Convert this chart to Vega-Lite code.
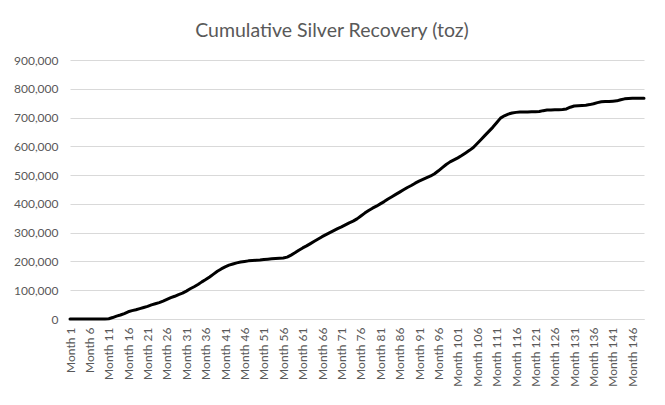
{
  "$schema": "https://vega.github.io/schema/vega-lite/v6.json",
  "width": 574,
  "height": 259,
  "autosize": {"type": "none"},
  "padding": {"left": 70, "top": 60, "right": 21, "bottom": 86},
  "background": "white",
  "title": {
    "text": "Cumulative Silver Recovery (toz)",
    "font": "Lato",
    "fontSize": 19.5,
    "fontWeight": "normal",
    "color": "#595959",
    "anchor": "middle",
    "dx": -25,
    "offset": 13
  },
  "data": {
    "values": [
      {"month": 1, "toz": 0}, {"month": 2, "toz": 0}, {"month": 3, "toz": 0}, {"month": 4, "toz": 0}, {"month": 5, "toz": 0},
      {"month": 6, "toz": 0}, {"month": 7, "toz": 0}, {"month": 8, "toz": 0}, {"month": 9, "toz": 0}, {"month": 10, "toz": 0},
      {"month": 11, "toz": 1000}, {"month": 12, "toz": 5000}, {"month": 13, "toz": 10000}, {"month": 14, "toz": 14000}, {"month": 15, "toz": 19000},
      {"month": 16, "toz": 25000}, {"month": 17, "toz": 29000}, {"month": 18, "toz": 32000}, {"month": 19, "toz": 36000}, {"month": 20, "toz": 40000},
      {"month": 21, "toz": 44000}, {"month": 22, "toz": 49000}, {"month": 23, "toz": 53000}, {"month": 24, "toz": 57000}, {"month": 25, "toz": 62000},
      {"month": 26, "toz": 68000}, {"month": 27, "toz": 74000}, {"month": 28, "toz": 79000}, {"month": 29, "toz": 85000}, {"month": 30, "toz": 90000},
      {"month": 31, "toz": 97000}, {"month": 32, "toz": 105000}, {"month": 33, "toz": 112000}, {"month": 34, "toz": 120000}, {"month": 35, "toz": 129000},
      {"month": 36, "toz": 137000}, {"month": 37, "toz": 146000}, {"month": 38, "toz": 156000}, {"month": 39, "toz": 166000}, {"month": 40, "toz": 174000},
      {"month": 41, "toz": 181000}, {"month": 42, "toz": 187000}, {"month": 43, "toz": 191000}, {"month": 44, "toz": 195000}, {"month": 45, "toz": 198000},
      {"month": 46, "toz": 200000}, {"month": 47, "toz": 202000}, {"month": 48, "toz": 203000}, {"month": 49, "toz": 204000}, {"month": 50, "toz": 205000},
      {"month": 51, "toz": 207000}, {"month": 52, "toz": 208000}, {"month": 53, "toz": 209000}, {"month": 54, "toz": 210000}, {"month": 55, "toz": 211000},
      {"month": 56, "toz": 212000}, {"month": 57, "toz": 215000}, {"month": 58, "toz": 222000}, {"month": 59, "toz": 230000}, {"month": 60, "toz": 239000},
      {"month": 61, "toz": 247000}, {"month": 62, "toz": 254000}, {"month": 63, "toz": 262000}, {"month": 64, "toz": 270000}, {"month": 65, "toz": 278000},
      {"month": 66, "toz": 286000}, {"month": 67, "toz": 293000}, {"month": 68, "toz": 300000}, {"month": 69, "toz": 307000}, {"month": 70, "toz": 314000},
      {"month": 71, "toz": 320000}, {"month": 72, "toz": 327000}, {"month": 73, "toz": 334000}, {"month": 74, "toz": 340000}, {"month": 75, "toz": 348000},
      {"month": 76, "toz": 358000}, {"month": 77, "toz": 368000}, {"month": 78, "toz": 377000}, {"month": 79, "toz": 385000}, {"month": 80, "toz": 392000},
      {"month": 81, "toz": 400000}, {"month": 82, "toz": 408000}, {"month": 83, "toz": 417000}, {"month": 84, "toz": 425000}, {"month": 85, "toz": 433000},
      {"month": 86, "toz": 441000}, {"month": 87, "toz": 449000}, {"month": 88, "toz": 457000}, {"month": 89, "toz": 464000}, {"month": 90, "toz": 472000},
      {"month": 91, "toz": 479000}, {"month": 92, "toz": 485000}, {"month": 93, "toz": 491000}, {"month": 94, "toz": 497000}, {"month": 95, "toz": 505000},
      {"month": 96, "toz": 515000}, {"month": 97, "toz": 526000}, {"month": 98, "toz": 537000}, {"month": 99, "toz": 546000}, {"month": 100, "toz": 553000},
      {"month": 101, "toz": 560000}, {"month": 102, "toz": 568000}, {"month": 103, "toz": 577000}, {"month": 104, "toz": 586000}, {"month": 105, "toz": 596000},
      {"month": 106, "toz": 610000}, {"month": 107, "toz": 624000}, {"month": 108, "toz": 638000}, {"month": 109, "toz": 652000}, {"month": 110, "toz": 666000},
      {"month": 111, "toz": 682000}, {"month": 112, "toz": 698000}, {"month": 113, "toz": 706000}, {"month": 114, "toz": 712000}, {"month": 115, "toz": 716000},
      {"month": 116, "toz": 718000}, {"month": 117, "toz": 719000}, {"month": 118, "toz": 719000}, {"month": 119, "toz": 719000}, {"month": 120, "toz": 720000},
      {"month": 121, "toz": 720000}, {"month": 122, "toz": 721000}, {"month": 123, "toz": 724000}, {"month": 124, "toz": 726000}, {"month": 125, "toz": 726000},
      {"month": 126, "toz": 727000}, {"month": 127, "toz": 727000}, {"month": 128, "toz": 728000}, {"month": 129, "toz": 730000}, {"month": 130, "toz": 736000},
      {"month": 131, "toz": 740000}, {"month": 132, "toz": 741000}, {"month": 133, "toz": 742000}, {"month": 134, "toz": 743000}, {"month": 135, "toz": 745000},
      {"month": 136, "toz": 748000}, {"month": 137, "toz": 752000}, {"month": 138, "toz": 755000}, {"month": 139, "toz": 756000}, {"month": 140, "toz": 756000},
      {"month": 141, "toz": 757000}, {"month": 142, "toz": 758000}, {"month": 143, "toz": 762000}, {"month": 144, "toz": 765000}, {"month": 145, "toz": 766000},
      {"month": 146, "toz": 767000}, {"month": 147, "toz": 767000}, {"month": 148, "toz": 767000}, {"month": 149, "toz": 767000}
    ]
  },
  "mark": {"type": "line", "color": "#000000", "strokeWidth": 3, "strokeCap": "round", "strokeJoin": "round"},
  "encoding": {
    "x": {
      "field": "month",
      "type": "quantitative",
      "scale": {"domain": [1, 149], "nice": false, "zero": false},
      "axis": {
        "title": null,
        "values": [1, 6, 11, 16, 21, 26, 31, 36, 41, 46, 51, 56, 61, 66, 71, 76, 81, 86, 91, 96, 101, 106, 111, 116, 121, 126, 131, 136, 141, 146],
        "labelExpr": "'Month ' + datum.value",
        "labelAngle": -90,
        "labelAlign": "right",
        "labelBaseline": "middle",
        "labelPadding": 8,
        "labelFont": "Lato",
        "labelFontSize": 12,
        "labelColor": "#595959",
        "labelOverlap": false,
        "labelFlush": false,
        "ticks": false,
        "grid": false,
        "domainColor": "#d9d9d9",
        "domainWidth": 1
      }
    },
    "y": {
      "field": "toz",
      "type": "quantitative",
      "scale": {"domain": [0, 900000], "nice": false},
      "axis": {
        "title": null,
        "values": [0, 100000, 200000, 300000, 400000, 500000, 600000, 700000, 800000, 900000],
        "format": ",.0f",
        "labelPadding": 12,
        "labelFont": "Lato",
        "labelFontSize": 12,
        "labelColor": "#595959",
        "ticks": false,
        "domain": false,
        "gridColor": "#d9d9d9",
        "gridWidth": 1
      }
    }
  },
  "config": {
    "view": {"stroke": null}
  }
}
